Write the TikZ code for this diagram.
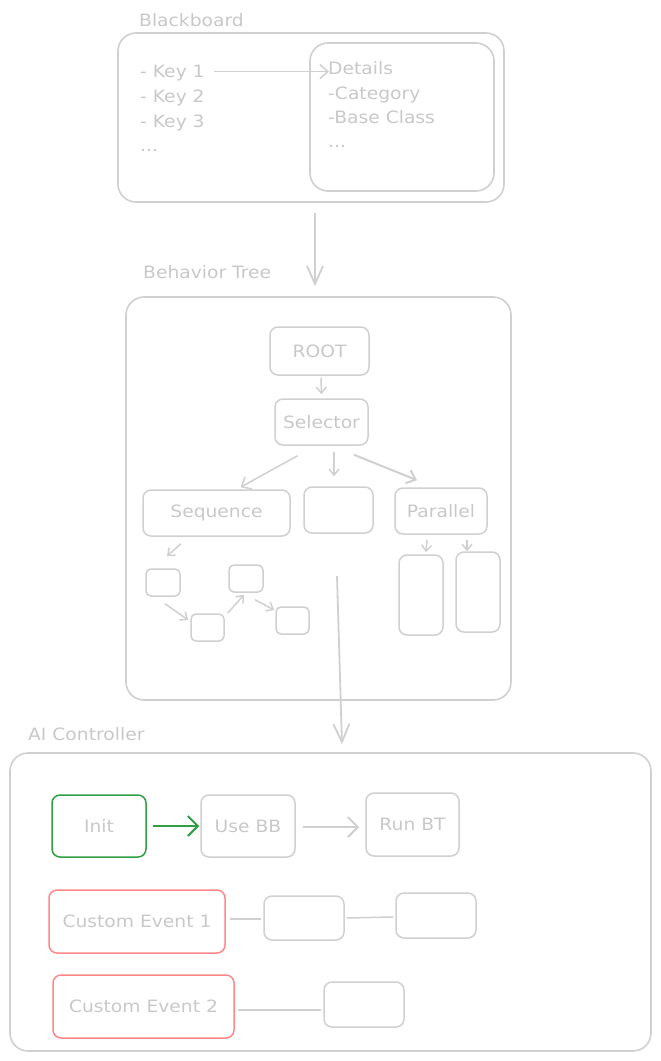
\documentclass[tikz,border=0pt]{standalone}
\usepackage{fontspec}
\setmainfont{DejaVu Sans}[FakeStretch=1.1]
\usetikzlibrary{arrows.meta}
\definecolor{linegray}{HTML}{D0D0D0}
\definecolor{textgray}{HTML}{C8C8C8}
\definecolor{initgreen}{HTML}{2F9E44}
\definecolor{eventred}{HTML}{FF8787}
\tikzset{
  frame/.style={draw=linegray, line width=1.6pt, rounded corners=18pt, inner sep=0pt},
  tag/.style={anchor=west, inner sep=0pt, text=textgray, font=\fontsize{17}{20}\selectfont},
  item/.style={anchor=base west, inner sep=0pt, text=textgray, font=\fontsize{17}{20}\selectfont},
  block/.style={draw=linegray, line width=1.5pt, rounded corners=8pt, inner sep=0pt,
    text=textgray, font=\fontsize{17}{20}\selectfont},
  leaf/.style={block, rounded corners=5pt},
  startblock/.style={block, draw=initgreen},
  eventblock/.style={block, draw=eventred},
  link/.style={-{Straight Barb[length=8pt, width=14pt]}, draw=linegray, line width=1.5pt},
  smalllink/.style={link, -{Straight Barb[length=6pt, width=10pt]}},
  biglink/.style={link, -{Straight Barb[length=18pt, width=16pt]}, line width=1.8pt},
  wire/.style={draw=linegray, line width=1.5pt}
}
\begin{document}
\begin{tikzpicture}[x=1pt, y=-1pt]
  \useasboundingbox (0,0) rectangle (661,1061);

  % blackboard
  \node[tag] (bbtag) at (139,20) {Blackboard};
  \node[frame, minimum width=386pt, minimum height=169pt] (bb) at (311,117.5) {};
  \node[frame, minimum width=184pt, minimum height=148pt] (details) at (402,117) {};
  \node[item] (key1) at (140,77) {- Key 1};
  \node[item] (key2) at (140,102) {- Key 2};
  \node[item] (key3) at (140,127) {- Key 3};
  \node[item] (keydots) at (140,151) {...};
  \node[item] (det) at (328,74) {Details};
  \node[item] (detcat) at (328,99) {-Category};
  \node[item] (detbase) at (328,123) {-Base Class};
  \node[item] (detdots) at (328,147) {...};
  \draw[link] ([xshift=9pt, yshift=1pt]key1.east) -- ([xshift=1pt, yshift=1pt]key1.east -| det.west);

  % behavior tree
  \node[tag] (bttag) at (143,272) {Behavior Tree};
  \node[frame, minimum width=385pt, minimum height=403pt] (bt) at (318.5,498.5) {};
  \node[block, minimum width=99pt, minimum height=48pt] (root) at (319.5,351) {ROOT};
  \node[block, minimum width=93pt, minimum height=46pt] (sel) at (321.5,422) {Selector};
  \node[block, minimum width=147pt, minimum height=46pt] (seq) at (216.5,513) {Sequence};
  \node[block, minimum width=69pt, minimum height=46pt] (mid) at (338.5,510) {};
  \node[block, minimum width=92pt, minimum height=46pt] (par) at (441,511) {Parallel};
  \node[leaf, minimum width=34pt, minimum height=27pt] (s1) at (163,582.5) {};
  \node[leaf, minimum width=33pt, minimum height=27pt] (s2) at (207.5,627.5) {};
  \node[leaf, minimum width=34pt, minimum height=27pt] (s3) at (246,578.5) {};
  \node[leaf, minimum width=33pt, minimum height=27pt] (s4) at (292.5,620.5) {};
  \node[block, minimum width=44pt, minimum height=80pt] (p1) at (421,595) {};
  \node[block, minimum width=44pt, minimum height=80pt] (p2) at (478,592) {};

  \draw[smalllink] ([xshift=1.5pt, yshift=-2pt]root.south) -- ([yshift=4pt]sel.north);
  \draw[link] ([xshift=-24pt, yshift=-10pt]sel.south) -- ([xshift=24pt, yshift=2pt]seq.north);
  \draw[smalllink] ([xshift=12.5pt, yshift=-6pt]sel.south) -- ([xshift=-4.5pt, yshift=10pt]mid.north);
  \draw[link, line width=2pt] ([xshift=32.5pt, yshift=-9pt]sel.south) -- ([xshift=-24pt, yshift=7pt]par.north);
  \draw[smalllink] ([xshift=-35.5pt, yshift=-7pt]seq.south) -- ([xshift=4pt, yshift=12pt]s1.north);
  \draw[smalllink] ([xshift=2pt, yshift=-7pt]s1.south) -- ([xshift=-2pt, yshift=7.5pt]s2.west);
  \draw[smalllink] ([xshift=3pt, yshift=14.5pt]s2.east) -- ([xshift=-2pt, yshift=-2pt]s3.south);
  \draw[smalllink] ([xshift=9pt, yshift=-7pt]s3.south) -- ([xshift=-1pt, yshift=10.5pt]s4.west);
  \draw[smalllink] ([xshift=-14pt, yshift=-5pt]par.south) -- ([xshift=5pt, yshift=2pt]p1.north);
  \draw[smalllink] ([xshift=26pt, yshift=-5pt]par.south) -- ([xshift=-11pt]p2.north);

  \draw[biglink] ([xshift=4pt, yshift=-10pt]bb.south) -- ([xshift=-3.5pt, yshift=10pt]bt.north);

  % ai controller
  \node[tag] (aitag) at (28,734) {AI Controller};
  \node[frame, minimum width=641pt, minimum height=298pt] (ai) at (330.5,902) {};
  \coordinate (btout) at (337,576);
  \draw[biglink] (btout) -- ([xshift=11.5pt, yshift=8pt]ai.north);

  \node[startblock, minimum width=94pt, minimum height=62pt] (init) at (99,826) {Init};
  \node[block, minimum width=94pt, minimum height=62pt] (usebb) at (248,826) {Use BB};
  \node[block, minimum width=93pt, minimum height=63pt] (runbt) at (412.5,824.5) {Run BT};
  \node[eventblock, minimum width=176pt, minimum height=63pt] (ce1) at (137,921.5) {Custom Event 1};
  \node[block, minimum width=80pt, minimum height=44pt] (e1a) at (304,918) {};
  \node[block, minimum width=80pt, minimum height=45pt] (e1b) at (436,915.5) {};
  \node[eventblock, minimum width=181pt, minimum height=63pt] (ce2) at (143.5,1006.5) {Custom Event 2};
  \node[block, minimum width=80pt, minimum height=45pt] (e2a) at (364,1004.5) {};

  \draw[link, draw=initgreen, line width=2pt, -{Straight Barb[length=10pt, width=20pt]}] ([xshift=6pt]init.east) -- ([xshift=-1pt]usebb.west);
  \draw[link, line width=2pt, -{Straight Barb[length=10pt, width=20pt]}] ([xshift=7pt, yshift=-1pt]usebb.east) -- ([xshift=-6pt, yshift=-2.5pt]runbt.west);
  \draw[wire] ([xshift=4pt, yshift=2.5pt]ce1.east) -- ([xshift=-2pt, yshift=-1pt]e1a.west);
  \draw[wire] ([xshift=2pt]e1a.east) -- ([xshift=-2pt, yshift=-1.5pt]e1b.west);
  \draw[wire] ([xshift=3pt, yshift=-3.5pt]ce2.east) -- ([xshift=-2pt, yshift=-5.5pt]e2a.west);
\end{tikzpicture}
\end{document}
